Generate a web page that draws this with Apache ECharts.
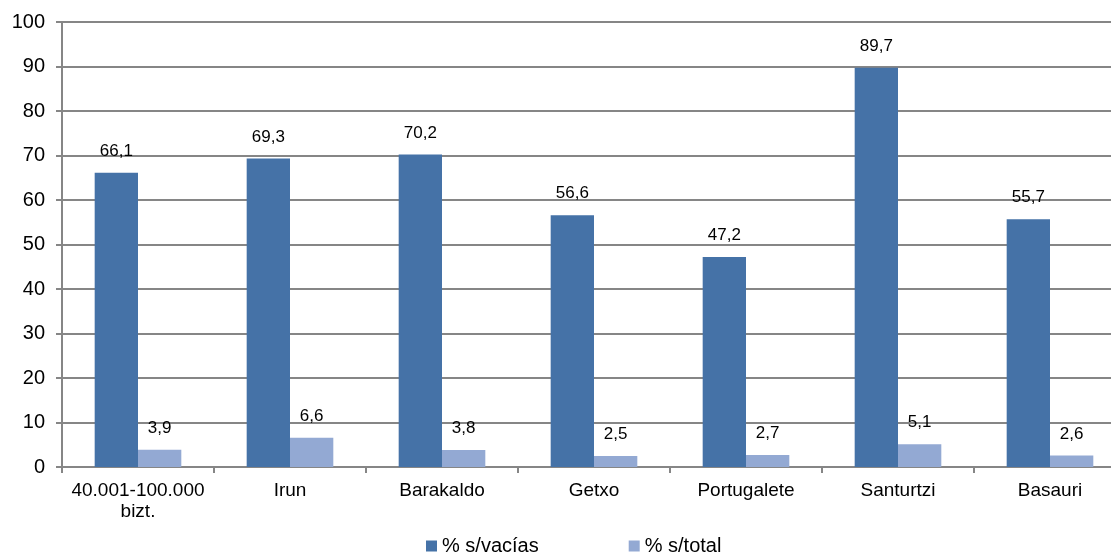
<!DOCTYPE html>
<html>
<head>
<meta charset="utf-8">
<script src="https://cdn.jsdelivr.net/npm/echarts@6/dist/echarts.min.js"></script>
<style>html,body{margin:0;padding:0;background:#fff;overflow:hidden;width:1111px;height:553px}#c{width:1126px;height:553px}</style>
</head>
<body>
<div id="c"></div>
<script>
var categories = ['40.001-100.000\nbizt.', 'Irun', 'Barakaldo', 'Getxo', 'Portugalete', 'Santurtzi', 'Basauri'];
var vacias = [66.1, 69.3, 70.2, 56.6, 47.2, 89.7, 55.7];
var total = [3.9, 6.6, 3.8, 2.5, 2.7, 5.1, 2.6];
var seriesNames = ['% s/vacías', '% s/total'];

var chart = echarts.init(document.getElementById('c'));
var fmt = function (p) { return String(p.value.toFixed(1)).replace('.', ','); };
var ff = 'Liberation Sans, Arial, sans-serif';
var lbl = {show: true, position: 'top', distance: 13, color: '#000', fontSize: 17, fontFamily: ff, formatter: fmt};
chart.setOption({
  animation: false,
  grid: {left: 62, right: 0, top: 22, bottom: 86, containLabel: false},
  legend: {
    top: 531, left: 421, itemWidth: 11, itemHeight: 11, itemGap: 90,
    icon: 'rect',
    textStyle: {fontSize: 20, color: '#000', fontFamily: ff},
    data: seriesNames
  },
  xAxis: {
    type: 'category', data: categories,
    axisLine: {lineStyle: {color: '#868686', width: 2}},
    axisTick: {show: true, interval: 0, length: 6, lineStyle: {color: '#868686', width: 2}},
    axisLabel: {interval: 0, hideOverlap: false, fontSize: 19, color: '#000', fontFamily: ff, margin: 13, lineHeight: 21}
  },
  yAxis: {
    type: 'value', min: 0, max: 100, interval: 10,
    axisLine: {show: true, lineStyle: {color: '#868686', width: 2}},
    axisTick: {show: true, length: 6, lineStyle: {color: '#868686', width: 2}},
    splitLine: {lineStyle: {color: '#868686', width: 2}},
    axisLabel: {fontSize: 20, color: '#000', fontFamily: ff, margin: 17}
  },
  series: [
    {name: seriesNames[0], type: 'bar', data: vacias, barGap: '0%', barCategoryGap: '43%',
     itemStyle: {color: '#4572A7'}, label: lbl},
    {name: seriesNames[1], type: 'bar', data: total, barGap: '0%', barCategoryGap: '43%',
     itemStyle: {color: '#93A9D3'}, label: lbl}
  ]
});
</script>
</body>
</html>
